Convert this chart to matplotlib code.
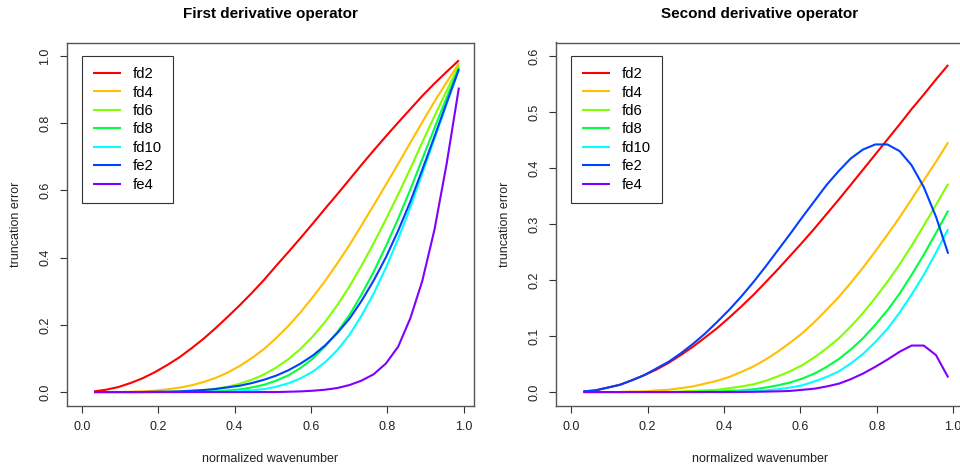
import matplotlib
matplotlib.use("Agg")
import matplotlib.pyplot as plt

plt.rcParams['font.family'] = ['Liberation Sans', 'DejaVu Sans']

# normalized wavenumber grid
x = [0.032, 0.064, 0.096, 0.128, 0.159, 0.191, 0.223, 0.255, 0.287, 0.319,
     0.350, 0.382, 0.414, 0.446, 0.478, 0.509, 0.541, 0.573, 0.605, 0.637,
     0.669, 0.701, 0.732, 0.764, 0.796, 0.828, 0.860, 0.891, 0.923, 0.955, 0.987]

labels = ['fd2', 'fd4', 'fd6', 'fd8', 'fd10', 'fe2', 'fe4']
colors = ['#FF0000', '#FFBF00', '#80FF00', '#00FF40', '#00FFFF', '#0040FF', '#8000FF']

# First derivative operator: truncation error
d1_fd2 = [0.002, 0.007, 0.015, 0.027, 0.041, 0.059, 0.080, 0.103, 0.130, 0.159,
          0.190, 0.224, 0.259, 0.296, 0.335, 0.376, 0.417, 0.459, 0.502, 0.546,
          0.589, 0.633, 0.676, 0.719, 0.761, 0.802, 0.842, 0.881, 0.918, 0.953, 0.987]
d1_fd4 = [0.000, 0.000, 0.000, 0.001, 0.002, 0.004, 0.008, 0.013, 0.020, 0.030,
          0.042, 0.058, 0.078, 0.102, 0.129, 0.161, 0.197, 0.238, 0.283, 0.331,
          0.383, 0.438, 0.496, 0.556, 0.617, 0.679, 0.742, 0.803, 0.864, 0.922, 0.978]
d1_fd6 = [0.000, 0.000, 0.000, 0.000, 0.000, 0.000, 0.001, 0.002, 0.003, 0.006,
          0.010, 0.016, 0.025, 0.037, 0.053, 0.073, 0.098, 0.129, 0.166, 0.209,
          0.259, 0.315, 0.376, 0.443, 0.514, 0.588, 0.665, 0.743, 0.821, 0.897, 0.971]
d1_fd8 = [0.000, 0.000, 0.000, 0.000, 0.000, 0.000, 0.000, 0.000, 0.001, 0.001,
          0.002, 0.005, 0.008, 0.014, 0.022, 0.034, 0.050, 0.072, 0.100, 0.136,
          0.179, 0.230, 0.290, 0.358, 0.434, 0.516, 0.603, 0.693, 0.785, 0.876, 0.965]
d1_fd10 = [0.000, 0.000, 0.000, 0.000, 0.000, 0.000, 0.000, 0.000, 0.000, 0.000,
           0.001, 0.001, 0.003, 0.005, 0.009, 0.016, 0.026, 0.041, 0.061, 0.089,
           0.125, 0.171, 0.227, 0.293, 0.370, 0.456, 0.550, 0.650, 0.754, 0.858, 0.960]
d1_fe2 = [0.000, 0.000, 0.000, 0.000, 0.000, 0.001, 0.001, 0.002, 0.004, 0.006,
          0.009, 0.014, 0.019, 0.027, 0.037, 0.049, 0.065, 0.085, 0.109, 0.139,
          0.176, 0.219, 0.271, 0.332, 0.401, 0.480, 0.567, 0.661, 0.760, 0.861, 0.961]
d1_fe4 = [0.000, 0.000, 0.000, 0.000, 0.000, 0.000, 0.000, 0.000, 0.000, 0.000,
          0.000, 0.000, 0.000, 0.000, 0.000, 0.000, 0.001, 0.002, 0.004, 0.007,
          0.012, 0.021, 0.034, 0.053, 0.085, 0.135, 0.220, 0.330, 0.483, 0.680, 0.906]

# Second derivative operator: truncation error
d2_fd2 = [0.001, 0.003, 0.008, 0.013, 0.021, 0.030, 0.040, 0.052, 0.066, 0.081,
          0.097, 0.114, 0.133, 0.153, 0.174, 0.196, 0.219, 0.243, 0.267, 0.292,
          0.318, 0.344, 0.370, 0.397, 0.424, 0.451, 0.478, 0.505, 0.531, 0.558, 0.584]
d2_fd4 = [0.000, 0.000, 0.000, 0.000, 0.001, 0.001, 0.003, 0.004, 0.007, 0.010,
          0.015, 0.020, 0.027, 0.036, 0.046, 0.058, 0.072, 0.088, 0.105, 0.125,
          0.147, 0.170, 0.195, 0.222, 0.251, 0.281, 0.312, 0.344, 0.378, 0.411, 0.446]
d2_fd6 = [0.000, 0.000, 0.000, 0.000, 0.000, 0.000, 0.000, 0.000, 0.001, 0.002,
          0.003, 0.004, 0.007, 0.010, 0.014, 0.020, 0.028, 0.037, 0.048, 0.062,
          0.078, 0.096, 0.117, 0.141, 0.168, 0.197, 0.228, 0.261, 0.297, 0.334, 0.372]
d2_fd8 = [0.000, 0.000, 0.000, 0.000, 0.000, 0.000, 0.000, 0.000, 0.000, 0.000,
          0.001, 0.001, 0.002, 0.003, 0.005, 0.008, 0.012, 0.017, 0.024, 0.033,
          0.045, 0.059, 0.076, 0.096, 0.120, 0.146, 0.176, 0.209, 0.245, 0.284, 0.324]
d2_fd10 = [0.000, 0.000, 0.000, 0.000, 0.000, 0.000, 0.000, 0.000, 0.000, 0.000,
           0.000, 0.000, 0.000, 0.001, 0.002, 0.003, 0.005, 0.008, 0.012, 0.019,
           0.027, 0.037, 0.051, 0.068, 0.089, 0.113, 0.142, 0.174, 0.209, 0.249, 0.291]
d2_fe2 = [0.001, 0.003, 0.008, 0.013, 0.021, 0.030, 0.042, 0.054, 0.069, 0.086,
          0.104, 0.125, 0.147, 0.171, 0.197, 0.224, 0.253, 0.282, 0.312, 0.341,
          0.370, 0.395, 0.417, 0.433, 0.442, 0.442, 0.430, 0.405, 0.366, 0.313, 0.247]
d2_fe4 = [0.000, 0.000, 0.000, 0.000, 0.000, 0.000, 0.000, 0.000, 0.000, 0.000,
          0.000, 0.000, 0.000, 0.0002, 0.0004, 0.0008, 0.0013, 0.002, 0.004, 0.006,
          0.010, 0.015, 0.023, 0.033, 0.045, 0.058, 0.072, 0.083, 0.083, 0.066, 0.026]

series1 = [d1_fd2, d1_fd4, d1_fd6, d1_fd8, d1_fd10, d1_fe2, d1_fe4]
series2 = [d2_fd2, d2_fd4, d2_fd6, d2_fd8, d2_fd10, d2_fe2, d2_fe4]

W, H = 960, 467
fig = plt.figure(figsize=(W / 100, H / 100), dpi=100)

box_w, box_h = 407.3, 363.0
box_bottom = 405.5


def panel(left_px, series, ylim_top, yticks, title):
    ax = fig.add_axes([left_px / W, (H - box_bottom) / H, box_w / W, box_h / H])
    for vals, lab, col in zip(series, labels, colors):
        ax.plot(x, vals, color=col, lw=1.5, label=lab, solid_capstyle='butt')
    pad = 0.04
    xr = max(x)
    ax.set_xlim(-pad * xr, xr + pad * xr)
    ax.set_ylim(-pad * ylim_top, ylim_top + pad * ylim_top)
    ax.set_xticks([0.0, 0.2, 0.4, 0.6, 0.8, 1.0])
    ax.set_xticklabels(['0.0', '0.2', '0.4', '0.6', '0.8', '1.0'])
    ax.set_yticks(yticks)
    ax.set_yticklabels([f'{v:.1f}' for v in yticks], rotation=90, va='center')
    ax.tick_params(axis='both', direction='out', length=5.2, width=0.8,
                   color='#333333', labelsize=9, pad=6, labelcolor='#222222')
    for sp in ax.spines.values():
        sp.set_color('#555555')
        sp.set_linewidth(1.0)
    ax.set_xlabel('normalized wavenumber', fontsize=9, color='#222222')
    ax.xaxis.set_label_coords(0.5, -0.147)
    ax.xaxis.label.set_va('center')
    ax.set_ylabel('truncation error', fontsize=9, color='#222222')
    ax.yaxis.set_label_coords(-0.125, 0.5)
    ax.yaxis.label.set_va('center')
    ax.text(0.5, 1 + 28.5 / box_h, title, transform=ax.transAxes,
            ha='center', va='center', fontsize=11, fontweight='bold')
    leg = ax.legend(loc='upper left', bbox_to_anchor=(0.0, ylim_top),
                    bbox_transform=ax.transData, borderaxespad=0.0,
                    fontsize=10.7, frameon=True, fancybox=False,
                    edgecolor='#333333', framealpha=1.0,
                    handlelength=1.9, handletextpad=0.75, labelspacing=0.3,
                    borderpad=0.75)
    leg.get_frame().set_linewidth(0.8)
    for h in leg.get_lines():
        h.set_linewidth(1.5)
    return ax


panel(66.7, series1, 1.0, [0.0, 0.2, 0.4, 0.6, 0.8, 1.0], 'First derivative operator')
panel(556.0, series2, 0.6, [0.0, 0.1, 0.2, 0.3, 0.4, 0.5, 0.6], 'Second derivative operator')

fig.savefig('out.png', dpi=100)
